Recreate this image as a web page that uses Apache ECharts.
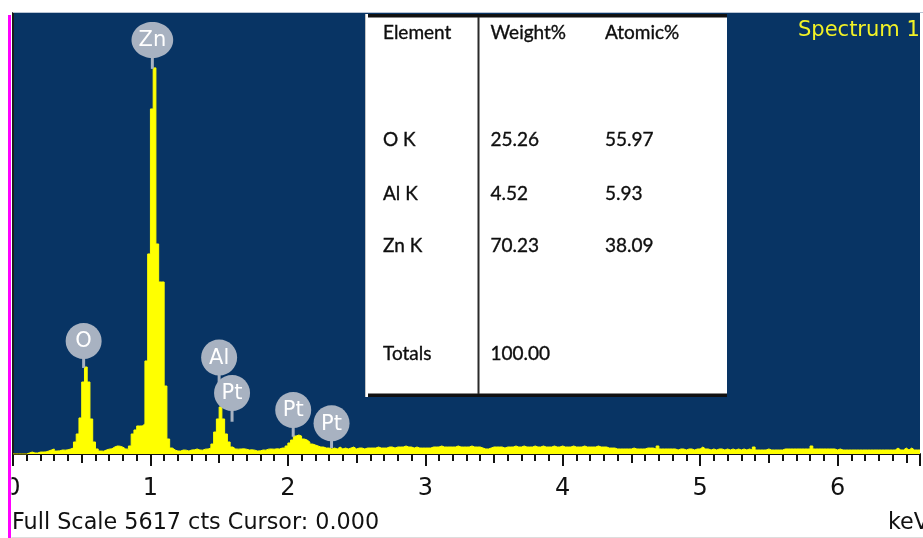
<!DOCTYPE html>
<html>
<head>
<meta charset="utf-8">
<script src="https://cdn.jsdelivr.net/npm/echarts@6/dist/echarts.min.js"></script>
<style>
  html, body { margin: 0; padding: 0; background: #ffffff; }
  #chart { width: 923px; height: 538px; }
</style>
</head>
<body>
<div id="chart"></div>
<script>
// EDS spectrum: counts per 0.02 keV channel, starting at 0 keV
const fullScale = 5617;
const channelWidth = 0.02;
const counts = [
  0, 0, 0, 0, 0, 13, 25, 13, 13, 25,
  25, 27, 38, 51, 64, 38, 40, 51, 49, 53,
  64, 76, 153, 255, 459, 917, 1108, 917, 446, 153,
  64, 38, 36, 51, 62, 66, 89, 102, 99, 87,
  64, 62, 102, 255, 306, 357, 357, 382, 1185, 2548,
  4395, 4918, 2675, 2191, 2191, 866, 191, 76, 51, 38,
  38, 51, 49, 38, 51, 53, 64, 51, 49, 62,
  64, 76, 127, 280, 446, 599, 446, 255, 153, 89,
  64, 62, 64, 66, 61, 51, 53, 49, 38, 40,
  51, 49, 62, 64, 61, 66, 64, 76, 76, 102,
  140, 178, 229, 242, 229, 191, 178, 153, 127, 115,
  102, 89, 89, 76, 76, 64, 76, 64, 89, 64,
  76, 64, 76, 89, 64, 76, 76, 64, 76, 76,
  76, 76, 89, 76, 76, 76, 89, 89, 76, 89,
  89, 89, 102, 89, 89, 76, 89, 76, 76, 76,
  76, 76, 89, 89, 89, 102, 89, 89, 89, 89,
  89, 102, 89, 89, 89, 89, 102, 89, 89, 89,
  76, 64, 64, 76, 89, 89, 89, 89, 76, 89,
  89, 89, 102, 89, 89, 102, 89, 89, 89, 102,
  89, 89, 102, 89, 89, 89, 102, 89, 89, 102,
  89, 89, 89, 102, 89, 89, 89, 102, 89, 89,
  89, 89, 102, 89, 89, 89, 76, 76, 76, 64,
  64, 64, 64, 64, 64, 76, 64, 64, 64, 64,
  76, 76, 76, 64, 102, 64, 64, 64, 64, 64,
  64, 51, 64, 64, 51, 64, 64, 51, 64, 64,
  89, 64, 64, 51, 64, 51, 64, 64, 51, 64,
  51, 64, 51, 64, 51, 64, 51, 64, 51, 89,
  51, 51, 51, 51, 64, 51, 51, 51, 51, 51,
  64, 64, 64, 64, 64, 64, 64, 64, 64, 64,
  102, 64, 64, 64, 64, 64, 64, 64, 64, 51,
  64, 51, 51, 51, 51, 51, 51, 51, 51, 51,
  51, 51, 51, 51, 51, 51, 51, 51, 51, 51,
  51, 76, 51, 51, 76, 51, 76, 51, 51, 51
];
const axisMaxKeV = 6.6;

// Peak identification markers
const peakNames = ['Zn', 'O', 'Al', 'Pt', 'Pt', 'Pt'];
const peakKeV = [1.014, 0.514, 1.500, 1.594, 2.039, 2.318];
const peakBubbleCts = [5274, 1440, 1229, 777, 561, 391];
const peakStemCts = [4905, 1096, 905, 411, 220, 76];

// Quantification table
const tableHeader = ['Element', 'Weight%', 'Atomic%'];
const tableElements = ['O K', 'Al K', 'Zn K'];
const weightPct = [25.26, 4.52, 70.23];
const atomicPct = [55.97, 5.93, 38.09];
const weightTotal = 100.00;

const spectrumName = 'Spectrum 1';
const cursorKeV = 0;
const axisUnit = 'keV';

// ---- build the step data
const stepData = counts.map((c, i) => [+(i * channelWidth).toFixed(2), c]);
stepData.push([+(counts.length * channelWidth).toFixed(2), counts[counts.length - 1]]);

const plotBlue = '#083464';
const bubbleGrey = '#a8b2c1';
const bubbleFont = '21px "DejaVu Sans"';

const measureCtx = document.createElement('canvas').getContext('2d');
measureCtx.font = bubbleFont;

const chart = echarts.init(document.getElementById('chart'), null, { renderer: 'canvas' });

// table graphics
const tableFont = '19px Lato';
const tableColor = '#0e0e0e';
const colX = [383, 490.5, 605];
const rowY = [140, 193.5, 246];
const tableGraphics = [
  { type: 'rect', shape: { x: 365, y: 14, width: 362, height: 383 }, style: { fill: '#ffffff' }, z: 10 },
  { type: 'line', shape: { x1: 365.5, y1: 14, x2: 365.5, y2: 397 }, style: { stroke: '#c4c4c4', lineWidth: 1 }, z: 11 },
  { type: 'rect', shape: { x: 368, y: 14, width: 359, height: 3.5 }, style: { fill: '#111111' }, z: 11 },
  { type: 'rect', shape: { x: 368, y: 393.5, width: 359, height: 3.5 }, style: { fill: '#111111' }, z: 11 },
  { type: 'line', shape: { x1: 478.5, y1: 17, x2: 478.5, y2: 394 }, style: { stroke: '#2a2a2a', lineWidth: 2 }, z: 11 }
];
function cellText(t, x, y) {
  return { type: 'text', x: x, y: y, z: 12,
    style: { text: t, font: tableFont, fill: tableColor, align: 'left', verticalAlign: 'middle',
      stroke: tableColor, lineWidth: 0.35 } };
}
tableHeader.forEach((h, j) => tableGraphics.push(cellText(h, colX[j], 33)));
tableElements.forEach((el, i) => {
  [el, weightPct[i].toFixed(2), atomicPct[i].toFixed(2)].forEach((t, j) => {
    tableGraphics.push(cellText(t, colX[j], rowY[i]));
  });
});
tableGraphics.push(cellText('Totals', colX[0], 354));
tableGraphics.push(cellText(weightTotal.toFixed(2), colX[1], 354));

const option = {
  animation: false,
  backgroundColor: '#ffffff',
  grid: {
    left: 13, right: -1, top: 13, bottom: 84,
    show: true, backgroundColor: plotBlue, borderWidth: 0
  },
  xAxis: [
    {
      type: 'value', min: 0, max: axisMaxKeV, interval: 1,
      axisLine: { show: true, onZero: false, lineStyle: { color: '#111111', width: 2 } },
      axisTick: { show: true, length: 12, lineStyle: { color: '#111111', width: 2 } },
      minorTick: { show: true, splitNumber: 10, length: 7, lineStyle: { color: '#111111', width: 2 } },
      splitLine: { show: false },
      minorSplitLine: { show: false },
      axisLabel: {
        show: true, showMinLabel: true, showMaxLabel: true, margin: 35, verticalAlign: 'middle',
        color: '#111111', fontFamily: 'DejaVu Sans', fontSize: 24,
        formatter: v => (Math.abs(v - Math.round(v)) < 1e-9 ? String(Math.round(v)) : '')
      }
    },
    {
      type: 'value', min: 0, max: axisMaxKeV, interval: 0.5, position: 'bottom',
      axisLine: { show: false, onZero: false },
      axisTick: { show: true, length: 9, lineStyle: { color: '#111111', width: 2 } },
      splitLine: { show: false },
      axisLabel: { show: false }
    }
  ],
  yAxis: {
    type: 'value', min: 0, max: fullScale,
    axisLine: { show: true, lineStyle: { color: '#1a1a1a', width: 2 } },
    axisTick: { show: false },
    axisLabel: { show: false },
    splitLine: { show: false }
  },
  series: [
    {
      type: 'line', xAxisIndex: 0, yAxisIndex: 0,
      data: stepData, step: 'end', showSymbol: false, symbol: 'none',
      lineStyle: { color: '#ffff00', width: 1 },
      areaStyle: { color: '#ffff00', opacity: 1 },
      z: 2, silent: true
    },
    {
      type: 'custom', xAxisIndex: 0, yAxisIndex: 0,
      data: peakNames.map((n, i) => [peakKeV[i], peakBubbleCts[i], peakStemCts[i]]),
      z: 5, silent: true,
      renderItem: (params, api) => {
        const name = peakNames[params.dataIndex];
        const c = api.coord([api.value(0), api.value(1)]);
        const s = api.coord([api.value(0), api.value(2)]);
        const w = measureCtx.measureText(name).width;
        const rx = Math.max(18, w / 2 + 7);
        return {
          type: 'group',
          children: [
            { type: 'line', shape: { x1: c[0], y1: c[1], x2: s[0], y2: s[1] },
              style: { stroke: bubbleGrey, lineWidth: 3 } },
            { type: 'ellipse', shape: { cx: c[0], cy: c[1], rx: rx, ry: 18 },
              style: { fill: bubbleGrey } },
            { type: 'text', x: c[0], y: c[1] + 1,
              style: { text: name, font: bubbleFont, fill: '#ffffff', align: 'center', verticalAlign: 'middle' } }
          ]
        };
      }
    }
  ],
  graphic: {
    elements: [
      // frame edges around the plot
      { type: 'line', shape: { x1: 13, y1: 12.5, x2: 923, y2: 12.5 }, style: { stroke: '#b9c4d4', lineWidth: 1 }, z: 20 },
      { type: 'rect', shape: { x: 0, y: 455, width: 11.5, height: 83 }, style: { fill: '#ffffff' }, z: 100 },
      { type: 'rect', shape: { x: 8, y: 15, width: 3, height: 523 }, style: { fill: '#ff00ff' }, z: 101 },
      { type: 'line', shape: { x1: 11, y1: 537.5, x2: 923, y2: 537.5 }, style: { stroke: '#dddddd', lineWidth: 1 }, z: 20 },
      // spectrum name
      { type: 'text', x: 798, y: 31, z: 20,
        style: { text: spectrumName, font: '21px "DejaVu Sans"', fill: '#f2f226', align: 'left', verticalAlign: 'middle' } },
      // status line
      { type: 'text', x: 12, y: 523, z: 20,
        style: { text: 'Full Scale ' + fullScale + ' cts Cursor: ' + cursorKeV.toFixed(3),
          font: '22.3px "DejaVu Sans"', fill: '#111111', align: 'left', verticalAlign: 'middle' } },
      { type: 'text', x: 888, y: 523, z: 20,
        style: { text: axisUnit, font: '22.3px "DejaVu Sans"', fill: '#111111', align: 'left', verticalAlign: 'middle' } }
    ].concat(tableGraphics)
  }
};

chart.setOption(option);
</script>
</body>
</html>
